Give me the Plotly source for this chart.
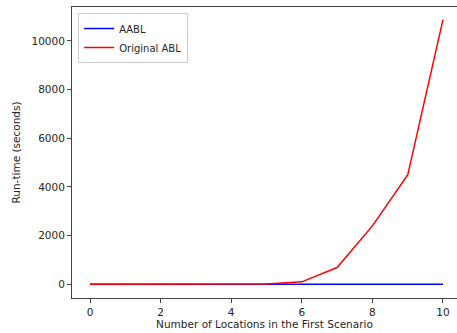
import plotly.graph_objects as go

locations = [0, 1, 2, 3, 4, 5, 6, 7, 8, 9, 10]
aabl = [0.01, 0.02, 0.05, 0.1, 0.2, 0.3, 0.5, 0.8, 1.2, 1.7, 2.5]
original_abl = [0.05, 0.1, 0.3, 0.8, 2, 15, 100, 690, 2400, 4490, 10880]
x_ticks = [0, 2, 4, 6, 8, 10]
y_ticks = [0, 2000, 4000, 6000, 8000, 10000]

fig = go.Figure()
fig.add_trace(go.Scatter(x=locations, y=aabl, mode="lines", name="AABL",
                         line=dict(color="#0000ff", width=1.5)))
fig.add_trace(go.Scatter(x=locations, y=original_abl, mode="lines", name="Original ABL",
                         line=dict(color="#ff0000", width=1.5)))

axis_common = dict(showgrid=False, zeroline=False, ticks="outside", ticklen=4,
                   tickcolor="#444", tickwidth=1, showline=True, linecolor="#444",
                   linewidth=1, automargin=False,
                   tickfont=dict(family="DejaVu Sans", size=10.5, color="#262626"))

fig.update_layout(
    width=457, height=333,
    margin=dict(l=72, r=0, t=7, b=35),
    paper_bgcolor="white", plot_bgcolor="white",
    font=dict(family="DejaVu Sans", size=10.5, color="#262626"),
    xaxis=dict(range=[-0.51, 10.397], tickvals=x_ticks,
               ticktext=[str(v) for v in x_ticks], mirror=True,
               title=dict(text="Number of Locations in the First Scenario",
                          font=dict(size=10.5), standoff=4),
               **axis_common),
    yaxis=dict(range=[-563, 11397], tickvals=y_ticks,
               ticktext=[str(v) for v in y_ticks],
               title=dict(text="Run-time (seconds)", font=dict(size=10.5), standoff=8),
               **axis_common),
    legend=dict(x=0.016, y=0.979, xanchor="left", yanchor="top",
                bgcolor="rgba(255,255,255,0.8)", bordercolor="#cccccc", borderwidth=1,
                font=dict(size=10), itemwidth=30, tracegroupgap=0),
    showlegend=True,
)

fig.write_html("out.html",
               config={"displayModeBar": False},
               post_script="document.body.style.margin='0';document.body.style.overflow='hidden';")
